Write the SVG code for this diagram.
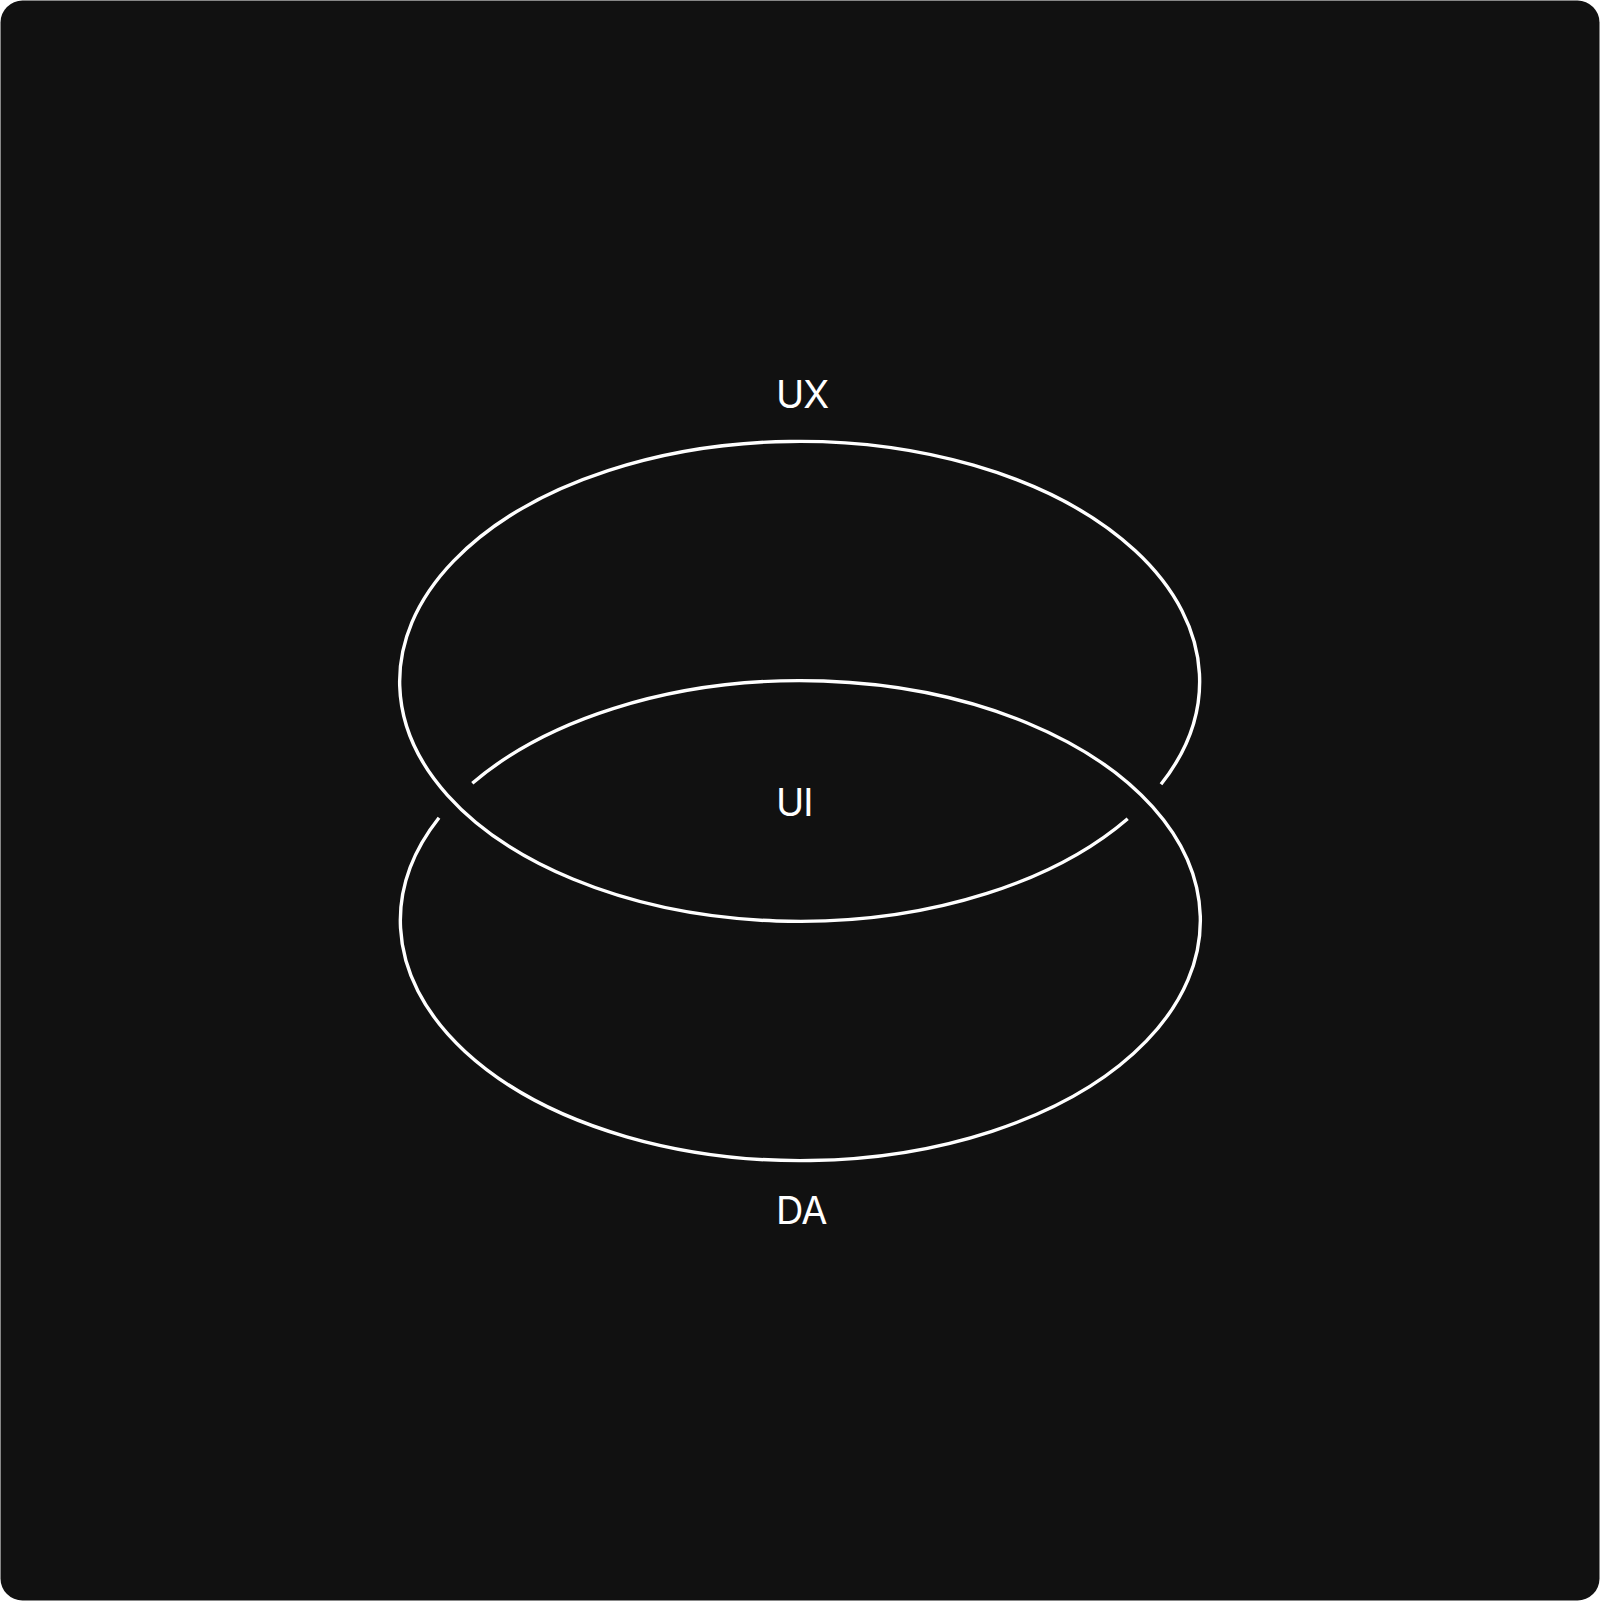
<svg xmlns="http://www.w3.org/2000/svg" width="1600" height="1601" viewBox="0 0 1600 1601">
  <style>
    .ring { fill: none; stroke: #ffffff; stroke-width: 3.4; }
    .label { font-family: Inter, "Liberation Sans", sans-serif; font-size: 38px; letter-spacing: -1px; fill: #ffffff; }
  </style>
  <rect x="0" y="0" width="1600" height="1601" fill="#ffffff"/>
  <rect x="0.5" y="0.5" width="1599" height="1600" rx="22" ry="22" fill="#111111"/>
  <g id="connectors">
    <path id="ring-top" class="ring" d="M 1161.0 784.3 A 400 240 0 1 0 1127.7 818.7"/>
    <path id="ring-bottom" class="ring" d="M 472.3 783.3 A 400 240 0 1 1 439.0 817.7"/>
  </g>
  <g id="node-ux"><text class="label" x="776" y="408">UX</text></g>
  <g id="node-ui"><text class="label" x="776" y="816">UI</text></g>
  <g id="node-da"><text class="label" x="776" y="1224">DA</text></g>
</svg>
